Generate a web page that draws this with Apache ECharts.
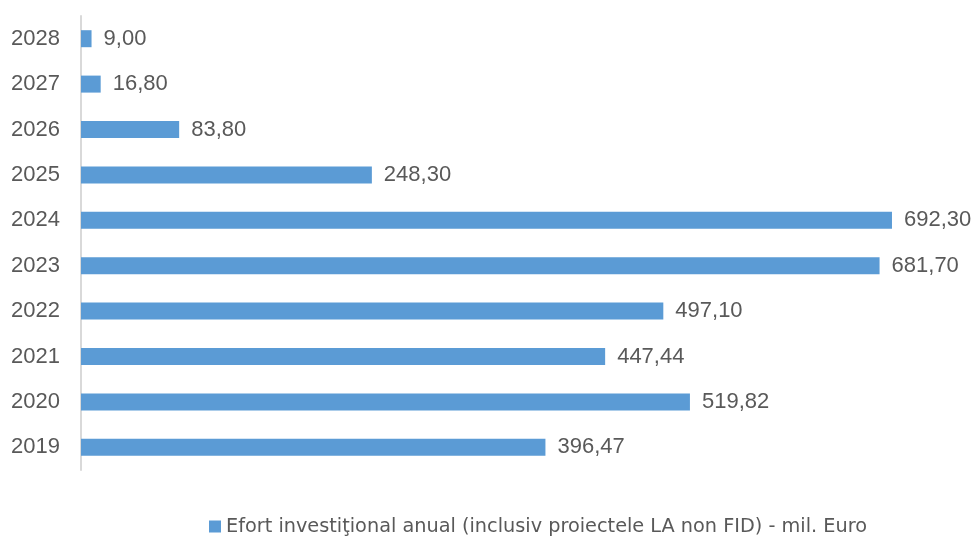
<!DOCTYPE html>
<html><head><meta charset="utf-8">
<script src="https://cdn.jsdelivr.net/npm/echarts@6/dist/echarts.min.js"></script>
<style>html,body{margin:0;padding:0;background:#fff}#c{width:979px;height:536px}</style>
</head><body><div id="c"></div>
<script>
const years = ['2019','2020','2021','2022','2023','2024','2025','2026','2027','2028'];
const values = [396.47, 519.82, 447.44, 497.10, 681.70, 692.30, 248.30, 83.80, 16.80, 9.00];
const seriesName = 'Efort investiţional anual (inclusiv proiectele LA non FID) - mil. Euro';

const chart = echarts.init(document.getElementById('c'));
const fam = '"Liberation Sans", Arial, sans-serif';
chart.setOption({
  animation: false,
  grid: {left: 81, right: 78, top: 16, bottom: 66},
  legend: {
    bottom: -5, left: 204,
    itemWidth: 12, itemHeight: 12, icon: 'rect', itemGap: 8,
    textStyle: {color: '#595959', fontSize: 19.3, fontFamily: '"DejaVu Sans", sans-serif'}
  },
  xAxis: {type: 'value', min: 0, max: 700, show: false},
  yAxis: {
    type: 'category', data: years,
    axisLine: {show: true, lineStyle: {color: '#d9d9d9', width: 2}},
    axisTick: {show: false},
    axisLabel: {color: '#595959', fontSize: 22, fontFamily: fam, margin: 21}
  },
  series: [{
    name: seriesName, type: 'bar', data: values, barWidth: 17,
    itemStyle: {color: '#5b9bd5'},
    label: {
      show: true, position: 'right', distance: 12,
      color: '#595959', fontSize: 22, fontFamily: fam,
      formatter: p => p.value.toFixed(2).replace('.', ',')
    }
  }]
});
</script></body></html>
